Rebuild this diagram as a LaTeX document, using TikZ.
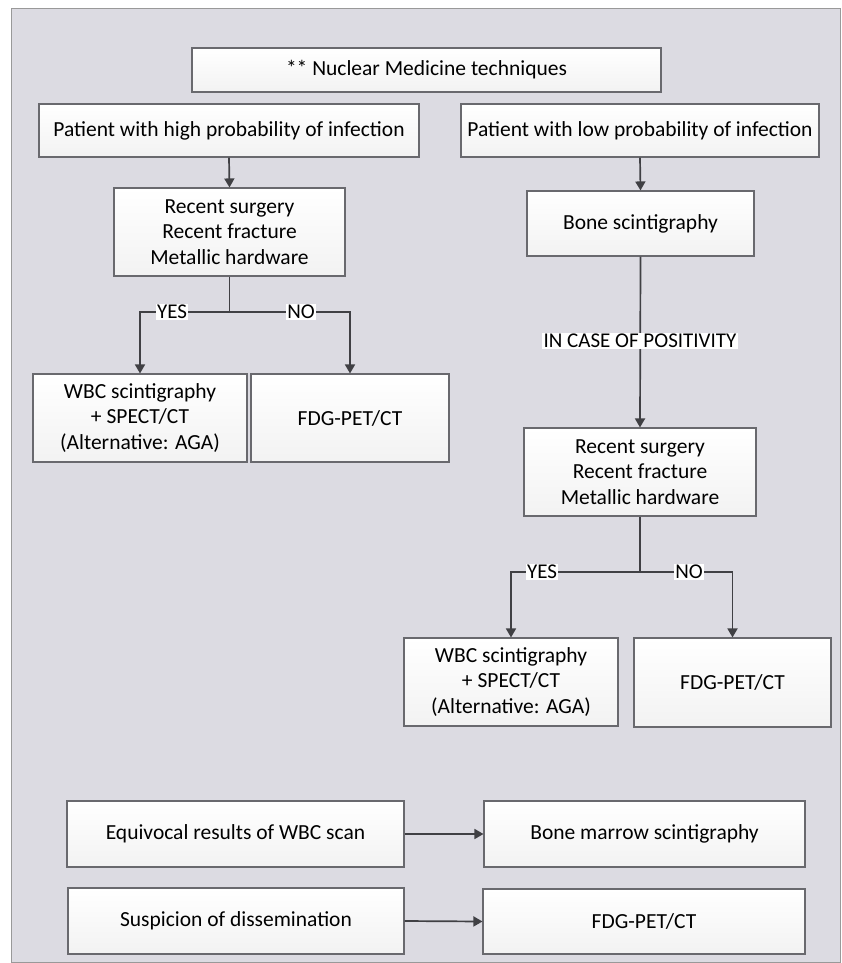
\documentclass[tikz,border=0pt]{standalone}
\usepackage{fontspec}
\setmainfont{Carlito}
\usetikzlibrary{arrows.meta}
\definecolor{bgc}{RGB}{220,219,226}
\definecolor{linec}{RGB}{64,64,68}
\definecolor{boxline}{RGB}{105,105,110}
\tikzset{
  bx/.style={draw=boxline, line width=1.1pt, top color=white, bottom color=black!5,
    align=center, inner sep=0pt, font=\fontsize{21.5}{25.5}\selectfont},
  conn/.style={draw=linec, line width=1.7pt},
  arr/.style={conn, -{Triangle[length=9pt,width=10pt]}},
  lbl/.style={fill=white, inner sep=1.5pt, font=\fontsize{21}{22}\selectfont}
}
\newcommand{\bxat}[6]{\node[bx, minimum width=#4pt, minimum height=#5pt] (#1) at (#2,#3) {#6};}
\begin{document}
\begin{tikzpicture}[x=1pt,y=-1pt]
\useasboundingbox (0,0) rectangle (842,963);
\fill[white] (0,0) rectangle (842,963);
\draw[fill=bgc, draw=gray!80, line width=1pt] (11,9) rectangle (840,962);

\bxat{title}{426.5}{70}{469}{44}{** Nuclear Medicine techniques}
\bxat{high}{229}{130.5}{380}{53}{Patient with high probability of infection}
\bxat{low}{640}{130.5}{358}{53}{Patient with low probability of infection}
\bxat{lrs}{229.5}{232}{231}{88}{Recent surgery\\Recent fracture\\Metallic hardware}
\bxat{lwbc}{140}{418}{214}{88}{WBC scintigraphy\\+ SPECT/CT\\(Alternative: AGA)}
\bxat{lfdg}{350}{418}{198}{88}{FDG-PET/CT}
\bxat{bone}{640.5}{223.5}{227}{65}{Bone scintigraphy}
\bxat{rrs}{640}{472}{232}{88}{Recent surgery\\Recent fracture\\Metallic hardware}
\bxat{rwbc}{511}{682}{214}{88}{WBC scintigraphy\\+ SPECT/CT\\(Alternative: AGA)}
\bxat{rfdg}{732.5}{682.5}{197}{89}{FDG-PET/CT}
\bxat{eq}{235.5}{834}{337}{66}{Equivocal results of WBC scan}
\bxat{bm}{644.5}{834}{321}{66}{Bone marrow scintigraphy}
\bxat{sus}{236}{921}{336}{66}{Suspicion of dissemination}
\bxat{fdgb}{644}{921.5}{322}{65}{FDG-PET/CT}

\coordinate (lj) at (229.5,312);
\coordinate (rj) at (640,572);

\draw[arr] (high.south) -- (lrs.north);
\draw[conn] (lrs.south) -- (lj);
\draw[arr] (lj) -| (lwbc.north);
\draw[arr] (lj) -| (lfdg.north);
\node[lbl] (yes1) at (172,312) {YES};
\node[lbl] (no1) at (301,312) {NO};

\draw[arr] (low.south) -- (bone.north);
\draw[arr] (bone.south) -- (rrs.north);
\node[lbl] (pos) at (640,341) {IN CASE OF POSITIVITY};
\draw[conn] (rrs.south) -- (rj);
\draw[arr] (rj) -| (rwbc.north);
\draw[arr] (rj) -| (rfdg.north);
\node[lbl] (yes2) at (542,572) {YES};
\node[lbl] (no2) at (689,572) {NO};

\draw[arr] (eq.east) -- (bm.west);
\draw[arr] (sus.east) -- (fdgb.west);
\end{tikzpicture}
\end{document}
